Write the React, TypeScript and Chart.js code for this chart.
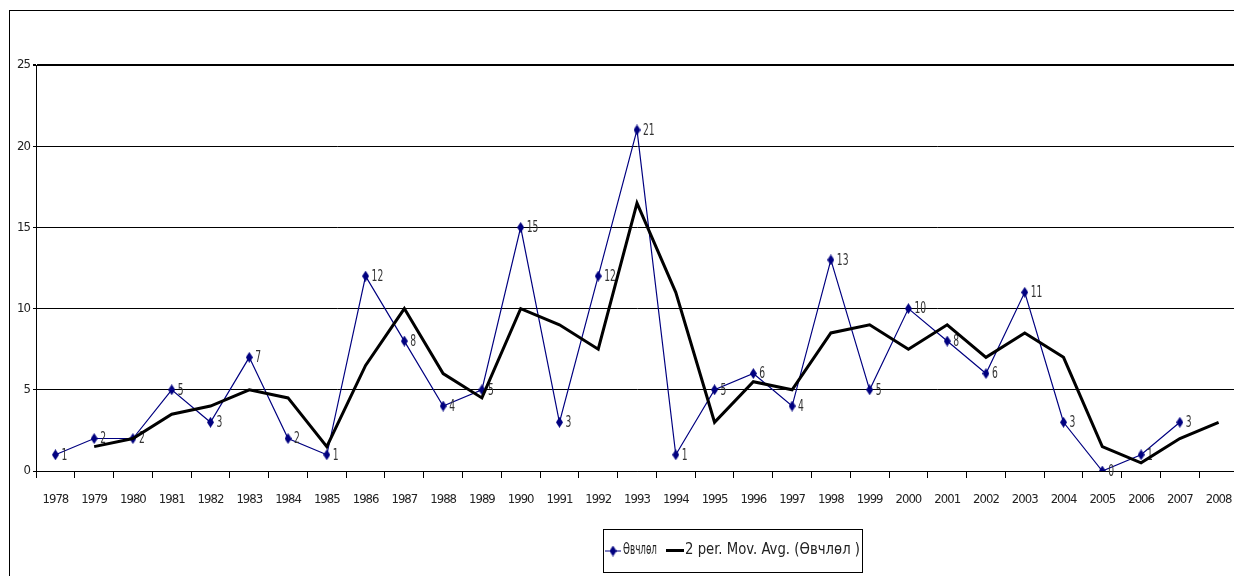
import React, { useEffect, useRef } from "react";
import { Chart, registerables } from "chart.js";

Chart.register(...registerables);

const years = [
  "1978", "1979", "1980", "1981", "1982", "1983", "1984", "1985", "1986", "1987",
  "1988", "1989", "1990", "1991", "1992", "1993", "1994", "1995", "1996", "1997",
  "1998", "1999", "2000", "2001", "2002", "2003", "2004", "2005", "2006", "2007", "2008",
];
const cases: (number | null)[] = [
  1, 2, 2, 5, 3, 7, 2, 1, 12, 8, 4, 5, 15, 3, 12, 21, 1, 5, 6, 4, 13, 5, 10, 8, 6, 11, 3, 0, 1, 3, null,
];
const movingAverage: (number | null)[] = [
  null, 1.5, 2, 3.5, 4, 5, 4.5, 1.5, 6.5, 10, 6, 4.5, 10, 9, 7.5, 16.5, 11, 3, 5.5, 5, 8.5, 9, 7.5, 9, 7, 8.5, 7, 1.5, 0.5, 2, 3,
];
const yMin = 0;
const yMax = 25;
const yStep = 5;
const seriesName = "Өвчлөл";
const trendName = "2 per. Mov. Avg. (Өвчлөл )";

const FONT = "'Liberation Sans Narrow', 'Arial Narrow', 'DejaVu Sans Condensed', sans-serif";
const NAVY = "#000080";

function makeDiamond(w: number, h: number, color: string) {
  const c = document.createElement("canvas");
  c.width = w;
  c.height = h;
  const g = c.getContext("2d")!;
  g.fillStyle = color;
  g.beginPath();
  g.moveTo(w / 2, 0);
  g.lineTo(w, h / 2);
  g.lineTo(w / 2, h);
  g.lineTo(0, h / 2);
  g.closePath();
  g.fill();
  return c;
}

export default function App() {
  const ref = useRef<HTMLCanvasElement | null>(null);

  useEffect(() => {
    if (!ref.current) return;
    const diamond = makeDiamond(7, 11, NAVY);

    const tightText = {
      id: "tightText",
      beforeDraw(chart: any) {
        chart.ctx.letterSpacing = "-1px";
      },
      afterDraw(chart: any) {
        chart.ctx.letterSpacing = "0px";
      },
    };

    const valueLabels = {
      id: "valueLabels",
      afterDatasetDraw(chart: any, args: any) {
        if (args.index !== 0) return;
        const ctx = chart.ctx;
        ctx.save();
        ctx.letterSpacing = "0px";
        ctx.font = `15px ${FONT}`;
        ctx.fillStyle = "#333";
        ctx.textAlign = "left";
        ctx.textBaseline = "middle";
        args.meta.data.forEach((pt: any, i: number) => {
          const v = cases[i];
          if (v == null) return;
          const s = String(v);
          const w = ctx.measureText(s).width * 0.68;
          ctx.fillText(s, pt.x + 6, pt.y + 1, w);
        });
        ctx.restore();
      },
    };

    const boxLegend = {
      id: "boxLegend",
      afterDraw(chart: any) {
        const ctx = chart.ctx;
        const bx = 603, by = 529, bw = 259, bh = 43;
        const cy = by + bh / 2;
        ctx.save();
        ctx.letterSpacing = "0px";
        ctx.strokeStyle = "#000";
        ctx.lineWidth = 1;
        ctx.strokeRect(bx + 0.5, by + 0.5, bw, bh);
        ctx.strokeStyle = NAVY;
        ctx.lineWidth = 1;
        ctx.beginPath();
        ctx.moveTo(bx + 2, cy + 0.5);
        ctx.lineTo(bx + 18, cy + 0.5);
        ctx.stroke();
        ctx.drawImage(diamond, bx + 10 - 3.5, cy - 5);
        ctx.font = `15px ${FONT}`;
        ctx.fillStyle = "#222";
        ctx.textAlign = "left";
        ctx.textBaseline = "middle";
        ctx.fillText(seriesName, bx + 20, cy, 34);
        ctx.strokeStyle = "#000";
        ctx.lineWidth = 3;
        ctx.beginPath();
        ctx.moveTo(bx + 63, cy);
        ctx.lineTo(bx + 81, cy);
        ctx.stroke();
        ctx.fillText(trendName, bx + 82, cy, 175);
        ctx.restore();
      },
    };

    const chart = new Chart(ref.current, {
      type: "line",
      data: {
        labels: years,
        datasets: [
          {
            label: seriesName,
            data: cases,
            borderColor: NAVY,
            backgroundColor: NAVY,
            borderWidth: 1.2,
            pointStyle: diamond as any,
            pointRadius: 4,
            tension: 0,
            spanGaps: false,
            order: 1,
          },
          {
            label: trendName,
            data: movingAverage,
            borderColor: "#000",
            backgroundColor: "#000",
            borderWidth: 3,
            pointRadius: 0,
            tension: 0,
            order: 0,
          },
        ],
      },
      options: {
        responsive: false,
        animation: false,
        devicePixelRatio: 1,
        layout: { padding: { top: 65, right: 12, bottom: 0, left: 0 } },
        plugins: {
          legend: { display: false },
          tooltip: { enabled: false },
        },
        scales: {
          x: {
            type: "category",
            offset: true,
            afterFit: (s: any) => {
              s.height = 105;
            },
            grid: {
              offset: true,
              drawOnChartArea: false,
              drawTicks: true,
              tickLength: 7,
              color: "#000",
            },
            border: { display: true, color: "#000", width: 1 },
            ticks: {
              autoSkip: false,
              maxRotation: 0,
              minRotation: 0,
              padding: 14,
              color: "#222",
              font: { family: FONT, size: 13 },
            },
          },
          y: {
            min: yMin,
            max: yMax,
            afterFit: (s: any) => {
              s.width = 36;
            },
            grid: {
              color: "#000",
              lineWidth: (c: any) => (c.tick && c.tick.value === yMax ? 2 : 1),
              tickLength: 3,
              drawTicks: true,
            },
            border: { display: true, color: "#000", width: 1 },
            ticks: {
              stepSize: yStep,
              padding: 3,
              color: "#222",
              font: { family: FONT, size: 13 },
            },
          },
        },
      },
      plugins: [tightText, valueLabels, boxLegend],
    });
    return () => chart.destroy();
  }, []);

  return (
    <div
      style={{
        position: "fixed",
        left: 0,
        top: 0,
        width: 1234,
        height: 576,
        overflow: "hidden",
        background: "#fff",
      }}
    >
      <canvas
        ref={ref}
        width={1250}
        height={576}
        style={{ position: "absolute", left: 0, top: 0, width: 1250, height: 576, display: "block" }}
      />
      <div
        style={{
          position: "absolute",
          left: 9,
          top: 10,
          width: 1400,
          height: 700,
          borderLeft: "1px solid #000",
          borderTop: "1px solid #000",
          pointerEvents: "none",
        }}
      />
    </div>
  );
}
